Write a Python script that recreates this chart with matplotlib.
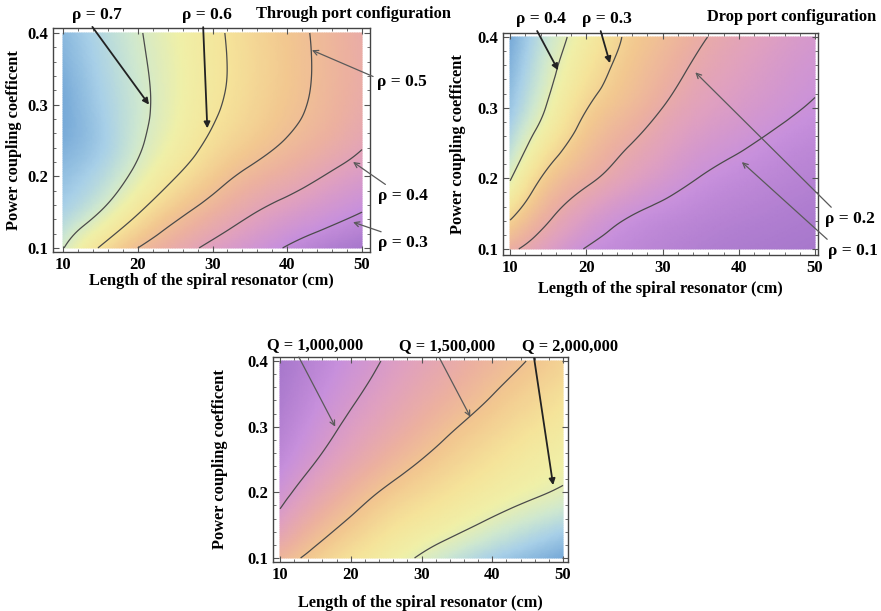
"""
plot.py
Three density maps of a spiral resonator versus length and power coupling:
through-port and drop-port ratio, and the loaded Q factor.
"""

import numpy as np
import matplotlib
matplotlib.use("Agg")
import matplotlib.pyplot as plt
import matplotlib.tri as mtri
from matplotlib.colors import LinearSegmentedColormap
from matplotlib.ticker import MultipleLocator

plt.rcParams["font.family"] = ["Liberation Serif", "DejaVu Serif"]
plt.rcParams["font.weight"] = "bold"
plt.rcParams["font.size"] = 11

# ---- data --------------------------------------------------------------
length_cm = [10, 15, 20, 25, 30, 35, 40, 45, 50]
coupling = [0.10, 0.15, 0.20, 0.25, 0.30, 0.35, 0.40]

# through port ratio, one row per coupling value
rho_through = [
    [0.703, 0.593, 0.500, 0.436, 0.381, 0.337, 0.295, 0.261, 0.235],
    [0.760, 0.698, 0.606, 0.524, 0.462, 0.408, 0.367, 0.332, 0.300],
    [0.790, 0.750, 0.680, 0.603, 0.536, 0.480, 0.440, 0.398, 0.360],
    [0.815, 0.775, 0.712, 0.650, 0.588, 0.540, 0.496, 0.456, 0.411],
    [0.822, 0.771, 0.718, 0.665, 0.612, 0.566, 0.522, 0.480, 0.437],
    [0.812, 0.762, 0.713, 0.666, 0.618, 0.573, 0.529, 0.485, 0.443],
    [0.800, 0.752, 0.706, 0.661, 0.615, 0.570, 0.526, 0.483, 0.440],
]
rho_through_levels = [0.3, 0.4, 0.5, 0.6, 0.7]

# drop port ratio
rho_drop = [
    [0.215, 0.150, 0.097, 0.077, 0.063, 0.052, 0.044, 0.038, 0.033],
    [0.318, 0.216, 0.150, 0.108, 0.085, 0.070, 0.059, 0.051, 0.044],
    [0.405, 0.280, 0.215, 0.166, 0.128, 0.098, 0.081, 0.068, 0.058],
    [0.455, 0.346, 0.263, 0.209, 0.165, 0.130, 0.108, 0.089, 0.075],
    [0.487, 0.393, 0.303, 0.250, 0.200, 0.160, 0.135, 0.113, 0.095],
    [0.505, 0.418, 0.338, 0.277, 0.228, 0.184, 0.155, 0.130, 0.110],
    [0.520, 0.436, 0.365, 0.296, 0.252, 0.207, 0.175, 0.148, 0.125],
]
rho_drop_levels = [0.1, 0.2, 0.3, 0.4]

# loaded Q, in millions
q_million = [
    [1.38, 1.58, 1.74, 1.88, 2.03, 2.17, 2.28, 2.37, 2.45],
    [1.10, 1.36, 1.55, 1.71, 1.83, 1.94, 2.05, 2.15, 2.24],
    [0.92, 1.15, 1.36, 1.535, 1.66, 1.77, 1.87, 1.955, 2.03],
    [0.80, 0.99, 1.175, 1.35, 1.50, 1.63, 1.74, 1.84, 1.925],
    [0.72, 0.89, 1.05, 1.20, 1.35, 1.495, 1.615, 1.725, 1.83],
    [0.67, 0.815, 0.96, 1.095, 1.23, 1.36, 1.495, 1.612, 1.728],
    [0.63, 0.76, 0.89, 1.019, 1.141, 1.262, 1.383, 1.505, 1.62],
]
q_levels = [1.0, 1.5, 2.0]

# low -> high: purple, pink, orange, yellow, pale cyan, blue
cmap = LinearSegmentedColormap.from_list("pastel", [
    (0.00, "#a878cc"), (0.12, "#c890dc"), (0.25, "#e0a0c0"),
    (0.38, "#ecb0a0"), (0.50, "#f2c890"), (0.62, "#f5e49a"),
    (0.72, "#f0f0a8"), (0.82, "#cfe8d0"), (0.91, "#a8d0e8"),
    (1.00, "#78aad8"),
])


def density_panel(ax, z, levels, xlim, ylim):
    """Smooth density map with contour lines in Mathematica frame style."""
    xx, yy = np.meshgrid(length_cm, coupling)
    z = np.asarray(z, dtype=float)
    # scale y so the grid cells are roughly square for the interpolator
    tri = mtri.Triangulation(xx.ravel(), yy.ravel() * 100.0)
    interp = mtri.CubicTriInterpolator(tri, z.ravel(), kind="min_E")
    fine, zf = mtri.UniformTriRefiner(tri).refine_field(
        z.ravel(), triinterpolator=interp, subdiv=4)
    fine = mtri.Triangulation(fine.x, fine.y / 100.0, fine.triangles)
    ax.tripcolor(fine, zf, shading="gouraud", cmap=cmap,
                 vmin=z.min(), vmax=z.max(), rasterized=True)
    ax.tricontour(fine, zf, levels=levels, colors="#4a4a4a",
                  linewidths=0.9)

    ax.set_xlim(*xlim)
    ax.set_ylim(*ylim)
    ax.set_xticks([10, 20, 30, 40, 50])
    ax.set_yticks([0.1, 0.2, 0.3, 0.4])
    ax.set_yticklabels(["0.1", "0.2", "0.3", "0.4"])
    ax.xaxis.set_minor_locator(MultipleLocator(2))
    ax.yaxis.set_minor_locator(MultipleLocator(0.02))
    ax.tick_params(which="both", direction="in", top=True, right=True,
                   color="#555555", labelsize=12)
    ax.tick_params(which="major", length=4, width=0.8)
    ax.tick_params(which="minor", length=2, width=0.6)
    for sp in ax.spines.values():
        sp.set_color("#444444")
        sp.set_linewidth(1.0)
    ax.set_xlabel("Length of the spiral resonator (cm)", fontsize=11.8,
                  fontweight="bold")
    ax.set_ylabel("Power coupling coefficent", fontsize=11.8,
                  fontweight="bold")


def label(ax, text, tip, where, relpos, dark=False, size=12.5):
    style = "-|>" if dark else "->"
    ax.annotate(text, xy=tip, xycoords="data",
                xytext=where, textcoords="figure pixels",
                ha="center", va="center", fontsize=size, fontweight="bold",
                arrowprops=dict(arrowstyle=style, mutation_scale=9,
                                color="#222222" if dark else "#5a5a5a",
                                lw=1.3 if dark else 0.9, relpos=relpos,
                                shrinkA=1, shrinkB=0))


fig = plt.figure(figsize=(8.81, 6.11), dpi=100)

ax1 = fig.add_axes([0.0602, 0.5876, 0.3598, 0.3666])
density_panel(ax1, rho_through, rho_through_levels,
              (8.66, 51.07), (0.0944, 0.407))
ax1.xaxis.labelpad = 0
ax1.yaxis.labelpad = 4
fig.text(354 / 881, 1 - 14 / 611, "Through port configuration",
         ha="center", va="center", fontsize=11.8, fontweight="bold")
label(ax1, "ρ = 0.7", (21.5, 0.30), (97, 596), (0.35, 0.0), dark=True)
label(ax1, "ρ = 0.6", (29.3, 0.267), (207, 596), (0.42, 0.0), dark=True)
label(ax1, "ρ = 0.5", (43.3, 0.376), (402, 529), (0.1, 0.6))
label(ax1, "ρ = 0.4", (48.8, 0.220), (403, 415), (0.25, 1.0))
label(ax1, "ρ = 0.3", (48.8, 0.136), (403, 368), (0.25, 1.0))

ax2 = fig.add_axes([0.571, 0.5827, 0.3575, 0.3633])
density_panel(ax2, rho_drop, rho_drop_levels,
              (9.08, 50.39), (0.0915, 0.4057))
ax2.xaxis.labelpad = 4
ax2.yaxis.labelpad = 8
fig.text(792 / 881, 1 - 17 / 611, "Drop port configuration",
         ha="center", va="center", fontsize=11.8, fontweight="bold")
label(ax2, "ρ = 0.4", (16.3, 0.353), (541, 592), (0.38, 0.0), dark=True)
label(ax2, "ρ = 0.3", (23.1, 0.363), (607, 592), (0.35, 0.0), dark=True)
label(ax2, "ρ = 0.2", (34.3, 0.350), (850, 392), (0.2, 1.0))
label(ax2, "ρ = 0.1", (40.4, 0.223), (853, 360), (0.1, 0.9))

ax3 = fig.add_axes([0.3099, 0.0802, 0.3348, 0.3355])
density_panel(ax3, q_million, q_levels,
              (9.01, 50.7), (0.0939, 0.4061))
ax3.xaxis.labelpad = 9
ax3.yaxis.labelpad = 14
label(ax3, "Q = 1,000,000", (17.8, 0.300), (315, 266), (0.31, 0.0),
      size=11.8)
label(ax3, "Q = 1,500,000", (36.9, 0.315), (447, 265), (0.4, 0.0),
      size=11.8)
label(ax3, "Q = 2,000,000", (48.6, 0.211), (570, 265), (0.12, 0.0),
      dark=True, size=11.8)

fig.savefig("out.png", dpi=100)
